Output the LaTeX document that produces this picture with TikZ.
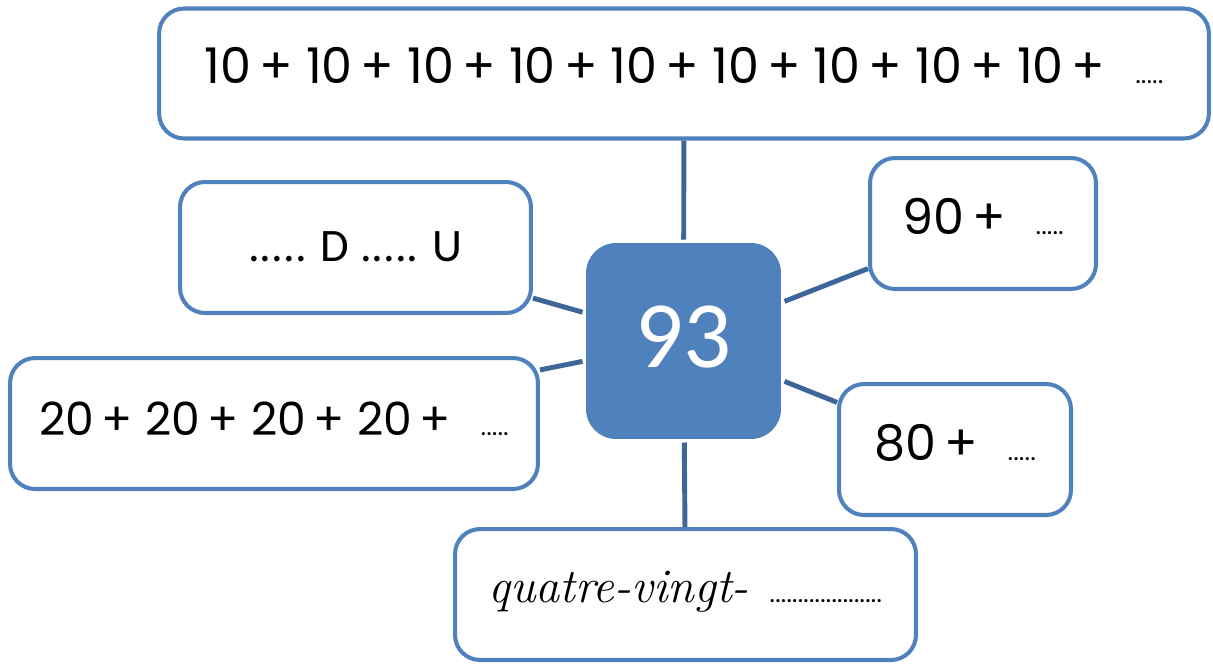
\documentclass[tikz,border=0pt]{standalone}
\usepackage{fontspec}
\usetikzlibrary{positioning}
\newfontfamily\calibri{Carlito}
\newfontfamily\chiffres{Poppins}
\definecolor{bleu}{RGB}{79,129,189}
\definecolor{trait}{RGB}{62,102,153}
\tikzset{
  boite/.style={draw=bleu,line width=2.3pt,rounded corners=0.5cm,fill=white,
    inner sep=0pt,text depth=0pt,text height=12pt,minimum height=2.62cm},
  lien/.style={draw=trait,line width=2.8pt},
}
\newcommand*{\trous}[1]{{\calibri\bfseries\fontsize{12}{12}\selectfont\foreach\i in {1,...,#1}{.}}}
\newcommand*{\plus}{\,+\ }
\newcommand*{\fin}{\,+\hspace{17pt}}

\begin{document}
\begin{tikzpicture}[x=0.02cm,y=-0.02cm]
\useasboundingbox (0,0) rectangle (1213,667);
% le nombre
\node[fill=bleu,rounded corners=0.6cm,minimum width=3.9cm,minimum height=3.92cm,
  inner sep=0pt,outer sep=2pt,text height=30.6pt,text depth=0pt,text=white,
  font=\calibri\fontsize{54}{54}\selectfont] (nombre) at (683.5,341) {93};
% les decompositions
\node[boite,minimum width=21.0cm,minimum height=2.6cm,font=\chiffres\fontsize{28}{28}\selectfont,
  text height=11pt] (dizaines) at (684,73.5)
  {10\plus10\plus10\plus10\plus10\plus10\plus10\plus10\plus10\fin\trous{5}};
\node[boite,minimum width=7.02cm,font=\calibri\fontsize{26.5}{26.5}\selectfont,
  text height=16.4pt] (du) at (355.5,247.5) {..... D ..... U};
\node[boite,minimum width=10.56cm,font=\chiffres\fontsize{26}{26}\selectfont,
  text height=14pt] (vingt) at (274,423.5) {20\plus20\plus20\plus20\fin\trous{5}};
\node[boite,minimum width=4.52cm,font=\chiffres\fontsize{28}{28}\selectfont]
  (quatrevingtdix) at (983,223.5) {90\fin\trous{5}};
\node[boite,minimum width=4.64cm,font=\chiffres\fontsize{28}{28}\selectfont]
  (quatrevingt) at (955,449.5) {80\fin\trous{5}};
\node[boite,minimum width=9.22cm,font=\itshape\fontsize{27.5}{27.5}\selectfont,
  text height=9.6pt] (lettres) at (685.5,594.5) {quatre-vingt-\hspace{12pt}\trous{20}};
% les traits
\draw[lien] (nombre) -- (dizaines);
\draw[lien] (nombre) -- (du);
\draw[lien] (nombre) -- (vingt);
\draw[lien] (nombre) -- (quatrevingtdix);
\draw[lien] (nombre) -- (quatrevingt);
\draw[lien] (nombre) -- (lettres);
\end{tikzpicture}
\end{document}
